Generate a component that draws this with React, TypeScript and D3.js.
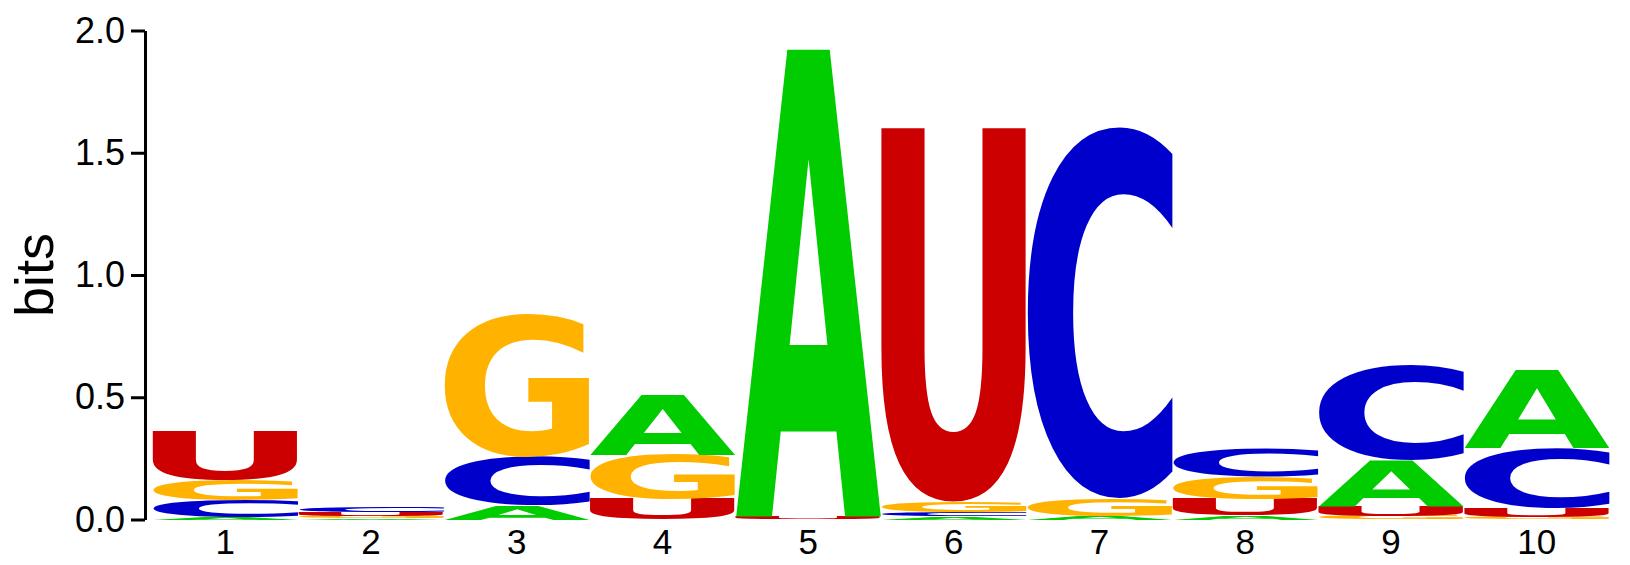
import { useMemo, useRef, useEffect } from "react"
import * as d3 from "d3"

// sequence logo, RNA, 10 positions
const positions = ["1", "2", "3", "4", "5", "6", "7", "8", "9", "10"]
const bases = ["A", "C", "G", "U"]
const baseColors = ["#00cc00", "#0000cc", "#ffb300", "#cc0000"]

// information (bits) per base
const bitsA = [0.009, 0.006, 0.059, 0.245, 1.912, 0.012, 0.014, 0.015, 0.187, 0.321]
const bitsC = [0.071, 0.02, 0.198, 0, 0, 0.016, 1.523, 0.115, 0.386, 0.244]
const bitsG = [0.083, 0.008, 0.585, 0.181, 0, 0.044, 0.072, 0.092, 0.014, 0.01]
const bitsU = [0.198, 0.016, 0, 0.084, 0.012, 1.53, 0, 0.068, 0.041, 0.038]

const yTicks = [0, 0.5, 1, 1.5, 2]

const W = 1630
const H = 565
const FONT = "'Liberation Sans', Arial, sans-serif"
const GLYPH_FONT = "'DejaVu Sans', sans-serif"
const GLYPH_SIZE = 200

export default function App() {
  const axisRef = useRef<SVGGElement | null>(null)

  const x = d3.scaleBand<string>().domain(positions).range([152.5, 1609.5]).padding(0)
  const y = d3.scaleLinear().domain([0, 2]).range([519.5, 30.5])

  // tight ink boxes of each glyph so a letter can be stretched to fill its cell
  const boxes = useMemo(() => {
    const ctx = document.createElement("canvas").getContext("2d")!
    ctx.font = `bold ${GLYPH_SIZE}px ${GLYPH_FONT}`
    return bases.map((b) => {
      const m = ctx.measureText(b)
      return {
        left: m.actualBoundingBoxLeft,
        right: m.actualBoundingBoxRight,
        ascent: m.actualBoundingBoxAscent,
        descent: m.actualBoundingBoxDescent,
      }
    })
  }, [])

  // stacks: smallest at the bottom
  const stacks = positions.map((p, i) => {
    const vals = [bitsA[i], bitsC[i], bitsG[i], bitsU[i]]
    const order = d3.range(4).filter((k) => vals[k] > 0).sort((a, b) => vals[a] - vals[b])
    let acc = 0
    return order.map((k) => {
      const y0 = acc
      acc += vals[k]
      return { pos: p, k, y0, y1: acc }
    })
  })

  useEffect(() => {
    if (!axisRef.current) return
    const g = d3.select(axisRef.current)
    g.selectAll("*").remove()
    g.call(
      d3
        .axisLeft(y)
        .tickValues(yTicks)
        .tickFormat(d3.format(".1f"))
        .tickSize(14)
        .tickSizeOuter(0)
        .tickPadding(6),
    )
    g.select(".domain").attr("stroke-width", 3)
    g.selectAll(".tick line").attr("stroke-width", 3)
    g.selectAll(".tick text").attr("font-size", 36).attr("font-family", FONT).attr("fill", "#000")
  }, [])

  return (
    <svg width={W} height={H} style={{ position: "fixed", left: 0, top: 0, background: "#fff" }}>
      {stacks.map((stack) =>
        stack.map(({ pos, k, y0, y1 }) => {
          const bx = boxes[k]
          const x0 = x(pos)!
          const top = y(y1)
          const h = y(y0) - y(y1)
          const sx = x.bandwidth() / (bx.left + bx.right)
          const sy = h / (bx.ascent + bx.descent)
          return (
            <text
              key={pos + bases[k]}
              x={0}
              y={0}
              fontSize={GLYPH_SIZE}
              fontFamily={GLYPH_FONT}
              fontWeight="bold"
              fill={baseColors[k]}
              transform={`translate(${x0},${top}) scale(${sx},${sy}) translate(${bx.left},${bx.ascent})`}
            >
              {bases[k]}
            </text>
          )
        }),
      )}

      <g ref={axisRef} transform="translate(145,0)" />

      {positions.map((p) => (
        <text
          key={p}
          x={x(p)! + x.bandwidth() / 2}
          y={554}
          textAnchor="middle"
          fontSize={35}
          fontFamily={FONT}
          fill="#000"
        >
          {p}
        </text>
      ))}

      <text
        transform={`translate(53,${y(1)}) rotate(-90)`}
        textAnchor="middle"
        fontSize={54}
        fontFamily={FONT}
        fill="#000"
      >
        bits
      </text>
    </svg>
  )
}
